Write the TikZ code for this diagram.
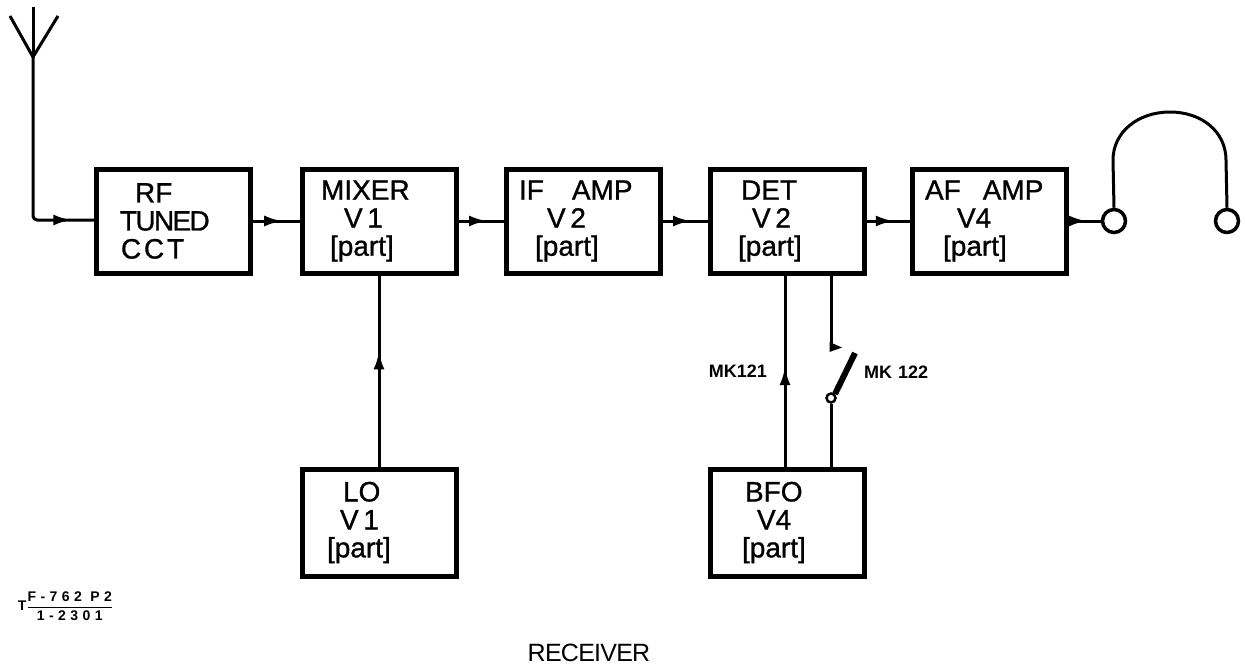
\documentclass[tikz,border=0pt]{standalone}
\usepackage{amsmath}
\usepackage{fontspec}
\setmainfont{Liberation Sans}
\usetikzlibrary{positioning, arrows.meta, decorations.markings}
\tikzset{
  block/.style={rectangle, draw=black, line width=5pt, outer sep=0pt, inner sep=0pt, minimum width=154pt, minimum height=104pt, text width=136pt, align=left, font=\fontsize{28}{28}\selectfont\addfontfeature{FakeBold=1}},
  wire/.style={line width=3pt, line join=round},
  flow/.style={wire, decoration={markings, mark=at position #1 with {\arrow{Latex[length=18pt, width=11pt]}}}, postaction={decorate}},
  flow/.default=0.62,
  ear/.style={circle, draw=black, line width=3.5pt, minimum size=23pt, inner sep=0pt},
  tag/.style={inner sep=0pt, font=\bfseries\fontsize{18}{20}\selectfont}
}
\begin{document}
\begin{tikzpicture}[x=1pt, y=-1pt]
  \useasboundingbox (0,0) rectangle (1245,669);

  \node (rf) [block] at (173,221) {\hspace*{30pt}RF\\\hspace*{15pt}{\addfontfeature{LetterSpace=-6}TUNED}\\\hspace*{16pt}{\addfontfeature{LetterSpace=10}CCT}};
  \node (mixer) [block, right=52pt of rf] {\hspace*{10pt}MIXER\\\hspace*{33pt}V\,1\\\hspace*{19pt}[part]};
  \node (ifamp) [block, right=50pt of mixer] {\hspace*{4pt}IF\hspace{28pt}AMP\\\hspace*{32pt}V\,2\\\hspace*{20pt}[part]};
  \node (det) [block, right=50pt of ifamp] {\hspace*{22pt}DET\\\hspace*{33pt}V\,2\\\hspace*{19pt}[part]};
  \node (afamp) [block, right=48pt of det] {\hspace*{4pt}AF\hspace{22pt}AMP\\\hspace*{36pt}V4\\\hspace*{22pt}[part]};
  \node (lo) [block, minimum height=107pt, below=196pt of mixer] {\hspace*{32pt}LO\\\hspace*{29pt}V\,1\\\hspace*{16pt}[part]};
  \node (bfo) [block, minimum height=107pt, below=196pt of det] {\hspace*{26pt}BFO\\\hspace*{38pt}V4\\\hspace*{23pt}[part]};

  % aerial
  \coordinate (aerialtop) at (33,7);
  \coordinate (aerialfoot) at (33,57);
  \coordinate (aerialleft) at (10,16);
  \coordinate (aerialright) at (58,16);
  \coordinate (aerialcorner) at (33,220);
  \draw [wire] (aerialtop) -- (aerialfoot);
  \draw [wire] (aerialleft) -- (aerialfoot) -- (aerialright);
  \draw [flow=0.89, rounded corners=4pt] (aerialfoot) -- (aerialcorner) -- (rf.west |- aerialcorner);

  % chain
  \draw [flow] (rf) -- (mixer);
  \draw [flow] (mixer) -- (ifamp);
  \draw [flow] (ifamp) -- (det);
  \draw [flow] (det) -- (afamp);
  \draw [flow=0.6] (lo) -- (mixer);

  % headphones
  \node (earleft) [ear] at (1114,221) {};
  \node (earright) [ear] at (1227,221) {};
  \draw [flow=0.6] (afamp) -- (earleft);
  \draw [wire] (earleft.north) -- (1113,160) .. controls (1113,132) and (1138,112) .. (1170,112) .. controls (1202,112) and (1226,132) .. (1226,160) -- (earright.north);

  % beat oscillator and its switch
  \draw [flow=0.52] (bfo.north -| 785,0) -- (det.south -| 785,0);
  \node (mkone) [tag, anchor=east] at (767,371) {MK121};
  \coordinate (contact) at (831,347);
  \node (pivot) [circle, draw=black, line width=2.5pt, minimum size=9pt, inner sep=0pt] at (831,398) {};
  \coordinate (bladeend) at (855,353);
  \draw [wire] (det.south -| contact) -- (contact);
  \fill (829.5,342) -- (842,347.5) -- (829.5,352) -- cycle;
  \draw [line width=6pt] (pivot.north east) -- (bladeend);
  \draw [wire] (pivot) -- (bfo.north -| pivot);
  \node (mktwo) [tag, anchor=west] at (864,372) {MK\hspace{6pt}122};

  \node (drawingref) [inner sep=0pt, font=\bfseries\fontsize{14}{16}\selectfont] at (65.5,606) {T$\dfrac{\text{\addfontfeature{LetterSpace=32}F-762 P2}}{\text{\addfontfeature{LetterSpace=32}1-2301}}$};
  \node (title) [font=\fontsize{25}{27}\selectfont\addfontfeature{LetterSpace=-3}] at (589,653) {RECEIVER};
\end{tikzpicture}
\end{document}
